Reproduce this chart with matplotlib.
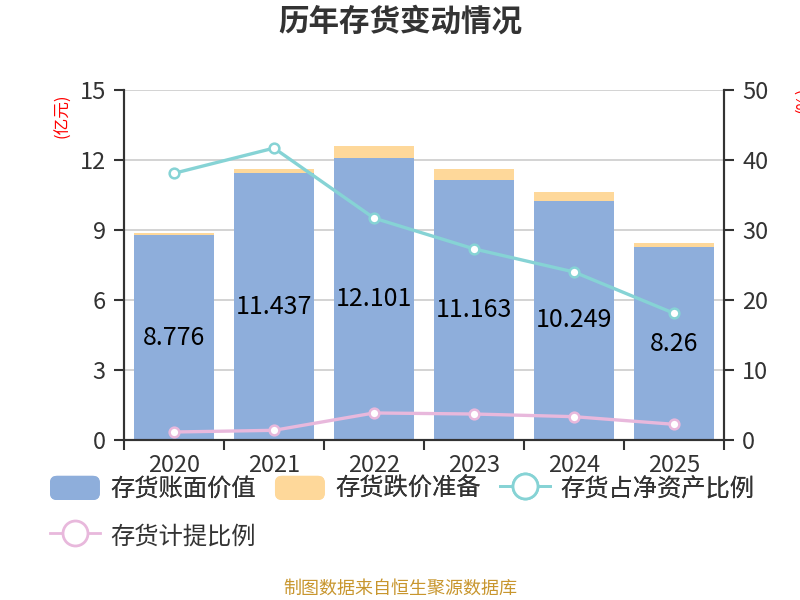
import matplotlib
matplotlib.use("Agg")
import matplotlib.pyplot as plt
from matplotlib.patches import Patch, FancyBboxPatch
from matplotlib.lines import Line2D
from matplotlib.legend_handler import HandlerPatch

plt.rcParams['font.family'] = ['Noto Sans CJK SC', 'DejaVu Sans']

years = ['2020', '2021', '2022', '2023', '2024', '2025']
book_value = [8.776, 11.437, 12.101, 11.163, 10.249, 8.26]
reserve = [0.08, 0.17, 0.50, 0.44, 0.37, 0.17]
share_of_net_assets = [38.1, 41.7, 31.7, 27.3, 24.0, 18.1]
reserve_ratio = [1.14, 1.38, 3.86, 3.71, 3.33, 2.24]

blue = '#8eaedb'
orange = '#fed89a'
teal = '#86d3d5'
pink = '#e8b8dc'
dark = '#333333'


class RoundHandler(HandlerPatch):
    def create_artists(self, legend, orig_handle, xdescent, ydescent,
                       width, height, fontsize, trans):
        p = FancyBboxPatch((-xdescent, -ydescent), width, height,
                           boxstyle="round,pad=0,rounding_size=5",
                           fc=orig_handle.get_facecolor(), ec='none',
                           transform=trans)
        return [p]


fig = plt.figure(figsize=(8, 6), dpi=100)
ax = fig.add_axes([0.155, 0.2667, 0.75, 0.5833])
ax2 = ax.twinx()

x = list(range(len(years)))
ax.bar(x, book_value, width=0.8, color=blue, zorder=2)
ax.bar(x, reserve, width=0.8, bottom=book_value, color=orange, zorder=2)
for i, v in enumerate(book_value):
    ax.text(i, v / 2, f'{v:g}', ha='center', va='center', fontsize=18,
            color='black', zorder=3)

ax2.plot(x, share_of_net_assets, color=teal, lw=2.4, marker='o', ms=7,
         mfc='white', mec=teal, mew=1.8)
ax2.plot(x, reserve_ratio, color=pink, lw=2.4, marker='o', ms=7,
         mfc='white', mec=pink, mew=1.8)

ax.set_xlim(-0.5, 5.5)
ax.set_ylim(0, 15)
ax.set_yticks([0, 3, 6, 9, 12, 15])
ax2.set_ylim(0, 50)
ax2.set_yticks([0, 10, 20, 30, 40, 50])

ax.set_xticks([i - 0.5 for i in range(7)])
ax.set_xticklabels([])
ax.set_xticks(x, minor=True)
ax.set_xticklabels(years, minor=True)
ax.tick_params(axis='x', which='major', length=7, width=1.5, color=dark)
ax.tick_params(axis='x', which='minor', length=0, pad=10, labelsize=17,
               labelcolor=dark)
ax.tick_params(axis='y', length=7, width=1.5, color=dark, pad=6,
               labelsize=17, labelcolor=dark)
ax2.tick_params(axis='y', length=7, width=1.5, color=dark, pad=6,
                labelsize=17, labelcolor=dark)

ax.grid(axis='y', color='#cccccc', lw=1.2)
ax.set_axisbelow(True)
for a in (ax, ax2):
    a.spines['top'].set_visible(False)
    for s in ('left', 'right', 'bottom'):
        a.spines[s].set_color(dark)
        a.spines[s].set_linewidth(1.5)

fig.text(0.5, 1 - 22 / 600, '历年存货变动情况', ha='center', va='center',
         fontsize=22, fontweight='bold', color=dark)
fig.text(63 / 800, 1 - 116 / 600, '(亿元)', rotation=90, ha='center',
         va='center', fontsize=12, color='red')
fig.text(803 / 800, 1 - 100 / 600, '(%)', rotation=90, ha='center',
         va='center', fontsize=12, color='red')
fig.text(0.5, 1 - 589 / 600, '制图数据来自恒生聚源数据库', ha='center',
         va='center', fontsize=13, color='#c8962e')

h1 = [Patch(fc=blue), Patch(fc=orange),
      Line2D([], [], color=teal, lw=2, marker='o', ms=18, mfc='white',
             mec=teal, mew=2)]
l1 = ['存货账面价值', '存货跌价准备', '存货占净资产比例']
leg1 = fig.legend(h1, l1, loc='center left', bbox_to_anchor=(50 / 800, 1 - 489 / 600),
                  ncol=3, frameon=False, fontsize=17.5, handlelength=2.05,
                  handleheight=1.15, handletextpad=0.42, columnspacing=0.8,
                  borderpad=0, borderaxespad=0,
                  handler_map={Patch: RoundHandler()})
for t in leg1.get_texts():
    t.set_color(dark)
h2 = [Line2D([], [], color=pink, lw=2, marker='o', ms=18, mfc='white',
             mec=pink, mew=2)]
leg2 = fig.legend(h2, ['存货计提比例'], loc='center left',
                  bbox_to_anchor=(50 / 800, 1 - 536 / 600), frameon=False,
                  fontsize=17.5, handlelength=2.05, handleheight=1.15,
                  handletextpad=0.42, borderpad=0, borderaxespad=0)
for t in leg2.get_texts():
    t.set_color(dark)
fig.add_artist(leg1)

fig.savefig('out.png', dpi=100)
